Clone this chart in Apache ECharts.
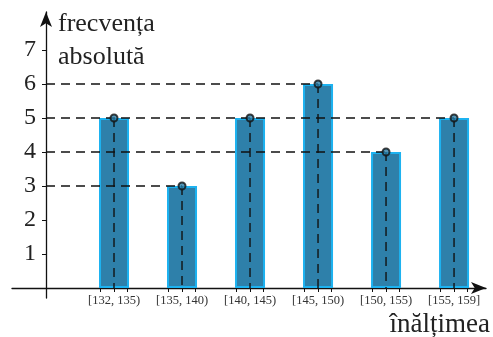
<!DOCTYPE html>
<html>
<head>
<meta charset="utf-8">
<script src="https://cdn.jsdelivr.net/npm/echarts@6/dist/echarts.min.js"></script>
<style>html,body{margin:0;padding:0;background:#fff}#c{width:493px;height:337px}</style>
</head>
<body>
<div id="c"></div>
<script>
var categories = ['[132, 135)', '[135, 140)', '[140, 145)', '[145, 150)', '[150, 155)', '[155, 159]'];
var frequencies = [5, 3, 5, 6, 4, 5];
var yTicks = [1, 2, 3, 4, 5, 6, 7];
var yTitle = ['frecvența', 'absolută'];
var xTitle = 'înălțimea';

var positions = categories.map(function (c, i) { return i + 1; });
var barData = positions.map(function (p, i) { return [p, frequencies[i]]; });
var xTickVals = [];
positions.forEach(function (p) { xTickVals.push(p - 0.2, p, p + 0.2); });

var dashStyle = { type: [9, 6], width: 1.4, color: '#111' };
var series = [{
  type: 'bar', data: barData, barWidth: 30, z: 2,
  itemStyle: { color: '#2e80aa', borderColor: '#1db2f0', borderWidth: 2 }
}];
// horizontal dashed guides: from y axis to rightmost bar with that value
var seen = {};
for (var i = frequencies.length - 1; i >= 0; i--) {
  var v = frequencies[i];
  if (!seen[v]) {
    seen[v] = true;
    series.push({ type: 'line', data: [[0, v], [positions[i], v]], symbol: 'none', lineStyle: dashStyle, z: 5, silent: true });
  }
}
// vertical dashed guides
positions.forEach(function (p, i) {
  series.push({ type: 'line', data: [[p, frequencies[i]], [p, 0]], symbol: 'none', lineStyle: dashStyle, z: 5, silent: true });
});
series.push({
  type: 'scatter', data: barData, symbolSize: 7, z: 10,
  itemStyle: { color: '#2b7ca5', borderColor: '#111', borderWidth: 2 }
});

var serif = 'Liberation Serif';
var chart = echarts.init(document.getElementById('c'));
chart.setOption({
  animation: false,
  grid: { left: 12, right: 7, top: 12, bottom: 39, containLabel: false, outerBoundsMode: 'none' },
  xAxis: {
    type: 'value', min: -0.5, max: 6.47,
    axisLine: { onZero: true, symbol: ['none', 'arrow'], symbolSize: [9, 15], lineStyle: { color: '#111', width: 1.3 } },
    axisTick: { show: true, length: 4, customValues: xTickVals, lineStyle: { color: '#111', width: 1 } },
    axisLabel: {
      customValues: positions, margin: -4, color: '#333', fontFamily: serif, fontSize: 12.5,
      formatter: function (val) { var k = Math.round(val) - 1; return categories[k] || ''; }
    },
    splitLine: { show: false }
  },
  yAxis: {
    type: 'value', min: -0.294, max: 8.118,
    axisLine: { show: true, onZero: true, symbol: ['none', 'arrow'], symbolSize: [9, 15], lineStyle: { color: '#111', width: 1.3 } },
    axisTick: { show: true, length: 4, customValues: yTicks, lineStyle: { color: '#111', width: 1 } },
    axisLabel: { customValues: yTicks, margin: -24, color: '#222', fontFamily: serif, fontSize: 24 },
    splitLine: { show: false }
  },
  series: series,
  graphic: [
    { type: 'text', style: { text: yTitle[0], x: 58, y: 24, font: '26px "Liberation Serif"', fill: '#222', verticalAlign: 'middle', align: 'left' } },
    { type: 'text', style: { text: yTitle[1], x: 58, y: 57, font: '26px "Liberation Serif"', fill: '#222', verticalAlign: 'middle', align: 'left' } },
    { type: 'text', style: { text: xTitle, x: 490, y: 325, font: '27px "Liberation Serif"', fill: '#222', verticalAlign: 'middle', align: 'right' } }
  ]
});
</script>
</body>
</html>
